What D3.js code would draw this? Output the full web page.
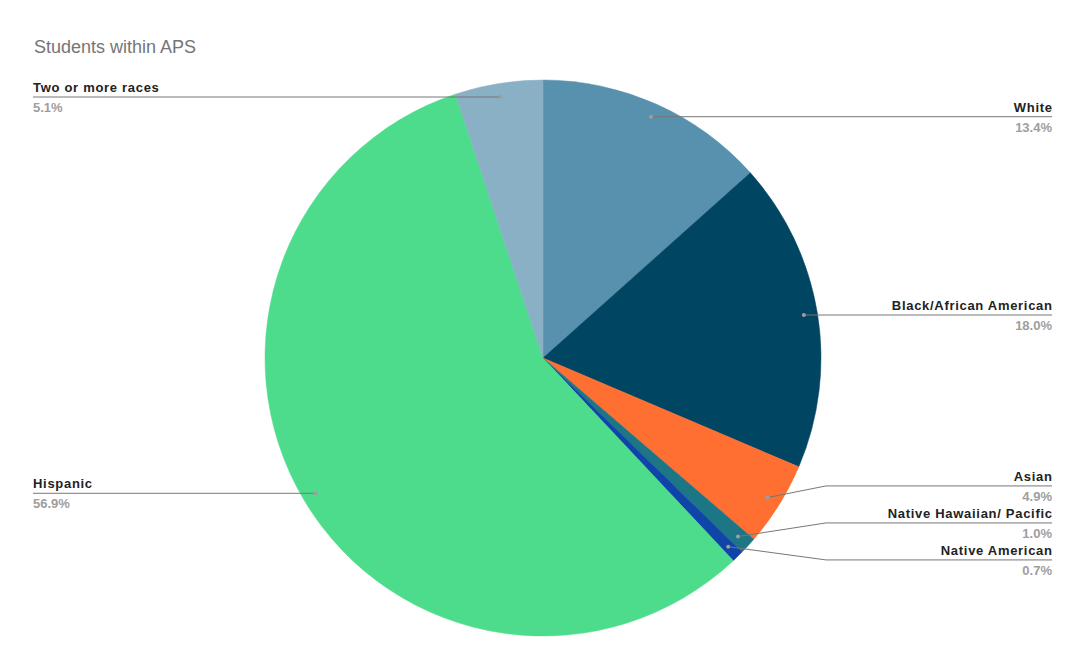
<!DOCTYPE html>
<html>
<head>
<meta charset="utf-8">
<script src="https://cdn.jsdelivr.net/npm/d3@7"></script>
<style>
  body { margin: 0; background: #fff; }
  svg { display: block; font-family: "Liberation Sans", Arial, sans-serif; }
</style>
</head>
<body>
<div id="chart"></div>
<script>
// data
const categories = ["White", "Black/African American", "Asian", "Native Hawaiian/ Pacific",
  "Native American", "Hispanic", "Two or more races"];
const shares = [13.4, 18.0, 4.9, 1.0, 0.7, 56.9, 5.1];
const colors = ["#5891ad", "#004561", "#ff6f31", "#1c7685", "#0f45a8", "#4cdc8b", "#89b0c4"];

const width = 1086, height = 671;
const cx = 543, cy = 358, radius = 278;
const dotRadius = radius * 0.951;
const rightEdge = 1052, leftEdge = 33, bendX = 826;
const labelGap = 37;

const svg = d3.select("#chart").append("svg")
  .attr("width", width).attr("height", height);

svg.append("text")
  .attr("x", 34).attr("y", 53)
  .style("font-size", "18px")
  .style("fill", "#757575")
  .text("Students within APS");

const data = categories.map((c, i) => ({ name: c, value: shares[i], color: colors[i] }));

const pie = d3.pie().sort(null).value(d => d.value);
const arcs = pie(data);

const arc = d3.arc().innerRadius(0).outerRadius(radius);

const g = svg.append("g").attr("transform", `translate(${cx},${cy})`);

g.selectAll("path.slice")
  .data(arcs)
  .enter()
  .append("path")
  .attr("class", "slice")
  .attr("d", arc)
  .style("fill", d => d.data.color)
  .style("stroke", d => d.data.color)
  .style("stroke-width", 0.5);

//Leader dot positions
arcs.forEach(a => {
  const mid = (a.startAngle + a.endAngle) / 2;
  a.dx = cx + dotRadius * Math.sin(mid);
  a.dy = cy - dotRadius * Math.cos(mid);
  a.right = mid < Math.PI;
  a.ly = a.dy;
});

//Spread labels that would collide, keeping each cluster roughly on its dots
function spread(list) {
  list.sort((a, b) => a.dy - b.dy);
  let groups = list.map(d => [d]);
  let changed = true;
  while (changed) {
    changed = false;
    groups.forEach(gr => {
      const mean = d3.mean(gr, d => d.dy) - (gr.length > 1 ? 4 : 0);
      const start = mean - (gr.length - 1) * labelGap / 2;
      gr.forEach((d, i) => (d.ly = start + i * labelGap));
    });
    for (let i = 0; i < groups.length - 1; i++) {
      const a = groups[i], b = groups[i + 1];
      if (b[0].ly - a[a.length - 1].ly < labelGap) {
        groups.splice(i, 2, a.concat(b));
        changed = true;
        break;
      }
    }
  }
}
spread(arcs.filter(a => a.right));
spread(arcs.filter(a => !a.right));

const labels = svg.append("g");

arcs.forEach(a => {
  const edge = a.right ? rightEdge : leftEdge;
  const pts = Math.abs(a.ly - a.dy) > 1
    ? [[a.dx, a.dy], [a.right ? bendX : edge, a.ly], [edge, a.ly]]
    : [[a.dx, a.dy], [edge, a.ly]];
  labels.append("path")
    .attr("d", d3.line()(pts))
    .style("fill", "none")
    .style("stroke", "#777")
    .style("stroke-width", 1);
  labels.append("circle")
    .attr("cx", a.dx).attr("cy", a.dy).attr("r", 2)
    .style("fill", "#9e9e9e");
  const anchor = a.right ? "end" : "start";
  labels.append("text")
    .attr("x", a.right ? edge + 0.7 : edge).attr("y", a.ly - 5)
    .attr("text-anchor", anchor)
    .style("font-size", "13px").style("font-weight", "bold")
    .style("letter-spacing", "0.7px")
    .style("fill", "#222")
    .text(a.data.name);
  labels.append("text")
    .attr("x", edge).attr("y", a.ly + 15)
    .attr("text-anchor", anchor)
    .style("font-size", "13px").style("font-weight", "bold")
    .style("fill", "#9e9e9e")
    .text(a.data.value.toFixed(1) + "%");
});
</script>
</body>
</html>
